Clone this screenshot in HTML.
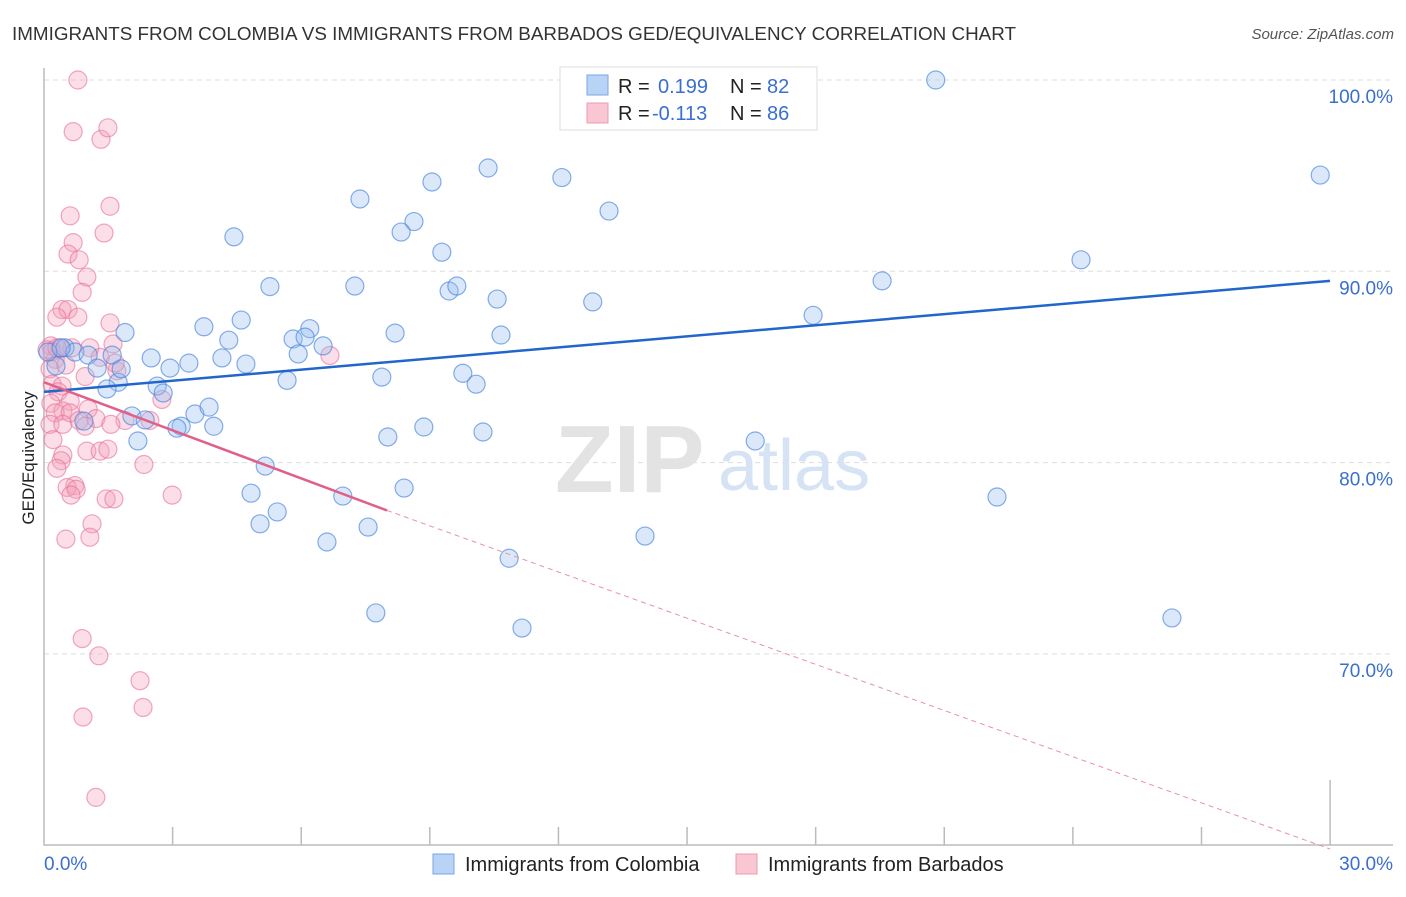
<!DOCTYPE html>
<html><head><meta charset="utf-8">
<style>
body{margin:0;background:#fff;font-family:"Liberation Sans",sans-serif;}
svg text{font-family:"Liberation Sans",sans-serif;}
</style></head>
<body>
<svg id="chart" width="1406" height="892" xmlns="http://www.w3.org/2000/svg">
<text x="12" y="40" font-size="18" fill="#333" textLength="1004" lengthAdjust="spacingAndGlyphs">IMMIGRANTS FROM COLOMBIA VS IMMIGRANTS FROM BARBADOS GED/EQUIVALENCY CORRELATION CHART</text>
<text x="1394" y="39" font-size="15" fill="#555" font-style="italic" text-anchor="end">Source: ZipAtlas.com</text>
<g id="grid"></g>
<text x="555" y="492" font-size="96" fill="#e3e3e3" font-family="Liberation Serif" font-weight="bold">ZIP</text>
<text x="718" y="490" font-size="72" fill="#d6e3f5">atlas</text>
<g id="pts"></g>
<g id="lines"></g>
<text transform="translate(34,458) rotate(-90)" font-size="17" fill="#222" text-anchor="middle">GED/Equivalency</text>
<g>
<rect x="560" y="67" width="257" height="63" fill="#fff" stroke="#ddd"/>
<rect x="587" y="75" width="21" height="20" fill="#b8d3f5" stroke="#7aa7e0"/>
<rect x="587" y="103" width="21" height="20" fill="#f9c6d4" stroke="#ef9ab2"/>
<text x="618" y="93" font-size="20" fill="#222">R = </text><text x="658" y="93" font-size="20" fill="#3a6fd0">0.199</text>
<text x="730" y="93" font-size="20" fill="#222">N = </text><text x="767" y="93" font-size="20" fill="#3a6fd0">82</text>
<text x="618" y="120" font-size="20" fill="#222">R = </text><text x="652" y="120" font-size="20" fill="#3a6fd0">-0.113</text>
<text x="730" y="120" font-size="20" fill="#222">N = </text><text x="767" y="120" font-size="20" fill="#3a6fd0">86</text>
</g>
<g>
<rect x="433" y="854" width="21" height="20" fill="#b8d3f5" stroke="#7aa7e0"/>
<text x="465" y="871" font-size="20" fill="#222">Immigrants from Colombia</text>
<rect x="736" y="854" width="21" height="20" fill="#f9c6d4" stroke="#ef9ab2"/>
<text x="768" y="871" font-size="20" fill="#222">Immigrants from Barbados</text>
</g>
</svg>
<script>
const xTicks=[0,3,6,9,12,15,18,21,24,27,30];
const yTicks=[100,90,80,70];
const yTickLabels=["100.0%","90.0%","80.0%","70.0%"];
const blueX=[13.86,15.35,20.8,29.77,10.36,12.08,9.05,7.37,8.63,8.33,13.18,4.43,9.28,24.19,19.55,5.27,7.25,9.45,9.63,10.57,12.8,17.94,1.89,3.73,4.6,4.31,6.2,8.19,10.66,5.81,6.09,6.51,5.93,0.49,0.72,1.03,1.59,2.5,3.38,4.15,4.71,2.94,1.24,1.73,1.47,2.64,2.78,5.67,7.88,9.77,10.08,0.28,3.52,3.85,2.05,2.36,3.2,3.1,3.96,0.93,2.19,8.02,8.86,10.24,16.59,5.16,4.83,8.4,6.97,22.23,5.44,5.04,7.56,6.6,14.02,10.85,7.74,11.15,26.31,0.09,0.4,1.8];
const blueY=[100.2,100.2,100.0,95.03,95.4,94.9,94.67,93.78,92.6,92.05,93.15,91.8,91.0,90.6,89.5,89.2,89.23,88.97,89.23,88.55,88.4,87.7,86.8,87.1,87.45,86.4,87.0,86.77,86.67,86.46,86.56,86.1,85.68,86.0,85.78,85.62,85.62,85.47,85.2,85.47,85.15,84.94,84.94,84.2,83.85,84.0,83.64,84.3,84.47,84.67,84.1,85.05,82.54,82.9,82.44,82.23,81.9,81.8,81.9,82.17,81.13,81.34,81.86,81.6,81.13,79.82,78.4,78.67,78.25,78.2,77.42,76.8,76.63,75.85,76.16,75.0,72.14,71.35,71.88,85.78,86.0,84.9];
const pinkX=[0.79,0.68,1.33,1.49,1.54,0.61,1.4,0.68,0.56,0.82,1.0,0.89,0.42,0.56,0.3,0.79,1.54,0.16,0.37,0.65,1.07,1.31,1.61,6.67,0.26,0.14,0.51,0.96,1.70,1.66,0.19,0.42,0.33,0.61,0.16,0.44,0.26,0.61,1.03,1.21,1.89,0.14,0.44,0.82,2.75,0.21,1.0,1.31,0.44,1.49,0.4,2.33,0.3,0.72,0.54,0.75,0.63,1.45,1.63,2.99,1.12,1.07,0.51,0.89,1.28,2.24,2.31,0.91,1.21,2.47,1.56,0.96,0.19,0.07,0.3];
const pinkY=[100.0,97.3,96.9,97.5,93.4,92.9,92.0,91.5,90.9,90.6,89.7,88.9,88.0,88.0,87.6,87.6,87.3,86.1,86.0,86.0,86.0,85.5,86.2,85.6,85.4,84.9,85.1,84.5,84.8,85.2,84.1,84.0,83.7,83.2,83.1,82.7,82.6,82.6,82.8,82.3,82.2,82.0,82.0,82.2,83.3,81.2,80.6,80.6,80.4,80.7,80.1,79.9,79.7,78.8,78.7,78.6,78.3,78.1,78.1,78.3,76.8,76.1,76.0,70.8,69.9,68.6,67.2,66.7,62.5,82.2,82.0,81.9,85.8,85.9,86.0];
const trendBlue=[0,83.7,30,89.5];
const trendPink=[0,84.2,8.0,77.5,30,59.8];
const X=v=>44+v*42.87, Y=v=>80+(100-v)*19.13;
const ns="http://www.w3.org/2000/svg";
function mk(t,a,p){const e=document.createElementNS(ns,t);for(const k in a)e.setAttribute(k,a[k]);p.appendChild(e);return e;}
const grid=document.getElementById('grid');
yTicks.forEach((v,i)=>{
 const l=mk('line',{x1:44,x2:1393,y1:Y(v),y2:Y(v),stroke:'#ddd','stroke-dasharray':'5,4'},grid);
 
 
 const t=mk('text',{x:1393,y:Y(v)+23,'font-size':19,fill:'#3a6fd0','text-anchor':'end'},grid);
 t.textContent=yTickLabels[i];
 
 
});
const ax=mk('path',{d:'M44,68 V845 H1393',fill:'none',stroke:'#bbb','stroke-width':1.5},grid);


xTicks.forEach((v,i)=>{
 if(i==0)return;
 const l=mk('line',{x1:X(v),x2:X(v),y1:845,y2:(i==10?780:827),stroke:'#bbb','stroke-width':1.5},grid);
 
 
});
const xl0=mk('text',{x:44,y:870,'font-size':19,fill:'#3a6fd0'},grid);xl0.textContent='0.0%';


const xl1=mk('text',{x:1393,y:870,'font-size':19,fill:'#3a6fd0','text-anchor':'end'},grid);xl1.textContent='30.0%';


const pts=document.getElementById('pts');
pinkX.forEach((v,i)=>{
 const c=mk('circle',{cx:X(v),cy:Y(pinkY[i]),r:9,fill:'rgba(244,160,186,0.35)',stroke:'rgba(232,110,150,0.6)','stroke-width':1.2},pts);
 
 
});
blueX.forEach((v,i)=>{
 const c=mk('circle',{cx:X(v),cy:Y(blueY[i]),r:9,fill:'rgba(150,190,240,0.35)',stroke:'rgba(70,130,220,0.65)','stroke-width':1.2},pts);
 
 
});
const lg=document.getElementById('lines');
const bl=mk('line',{x1:X(trendBlue[0]),y1:Y(trendBlue[1]),x2:X(trendBlue[2]),y2:Y(trendBlue[3]),stroke:'#2266cc','stroke-width':2.5},lg);


const pl=mk('line',{x1:X(trendPink[0]),y1:Y(trendPink[1]),x2:X(trendPink[2]),y2:Y(trendPink[3]),stroke:'#e0608a','stroke-width':2.5},lg);


const pd=mk('line',{x1:X(trendPink[2]),y1:Y(trendPink[3]),x2:X(trendPink[4]),y2:Y(trendPink[5]),stroke:'#e890aa','stroke-width':1,'stroke-dasharray':'5,4'},lg);


</script>
</body></html>
